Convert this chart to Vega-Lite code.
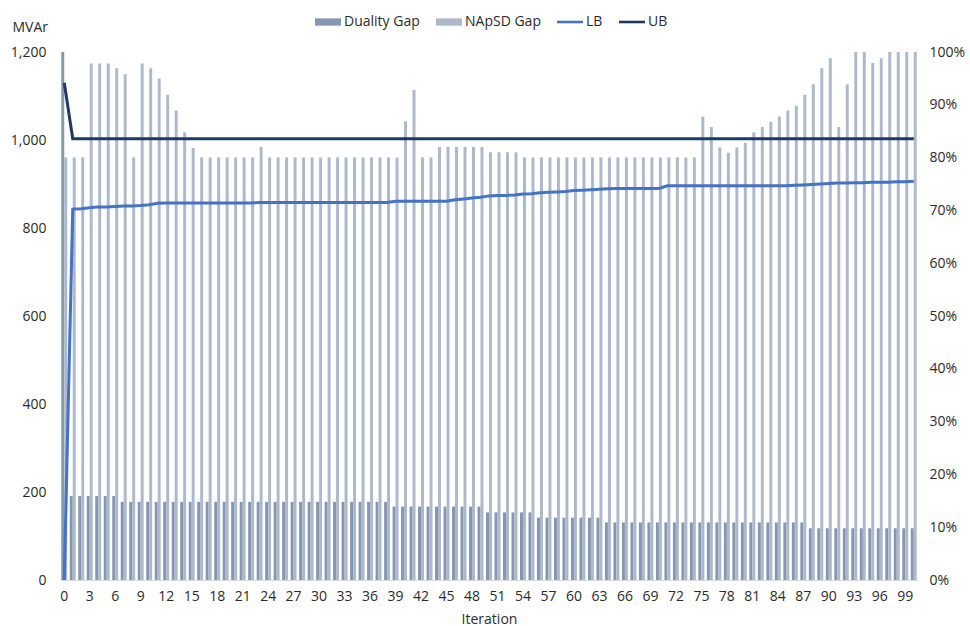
{
  "$schema": "https://vega.github.io/schema/vega-lite/v6.json",
  "width": 858,
  "height": 528,
  "autosize": {"type": "none"},
  "padding": {"left": 60, "top": 52, "right": 52, "bottom": 46},
  "background": "white",
  "config": {
    "view": {"stroke": null},
    "font": "Open Sans",
    "axis": {"labelFont": "Open Sans", "labelFontSize": 14, "labelColor": "#2b2b2b", "titleFont": "Open Sans", "titleFontSize": 14, "titleFontWeight": "normal", "titleColor": "#2b2b2b", "grid": false, "ticks": false},
    "legend": {"labelFont": "Open Sans", "labelFontSize": 14, "labelColor": "#2b2b2b"}
  },
  "data": {"values": [
    {"it":0,"Duality Gap":1.0,"NApSD Gap":0.80,"LB":0,"UB":1130},
    {"it":1,"Duality Gap":0.159,"NApSD Gap":0.80,"LB":843,"UB":1003},
    {"it":2,"Duality Gap":0.159,"NApSD Gap":0.80,"LB":844,"UB":1003},
    {"it":3,"Duality Gap":0.159,"NApSD Gap":0.978,"LB":846,"UB":1003},
    {"it":4,"Duality Gap":0.159,"NApSD Gap":0.978,"LB":848,"UB":1003},
    {"it":5,"Duality Gap":0.159,"NApSD Gap":0.978,"LB":848,"UB":1003},
    {"it":6,"Duality Gap":0.159,"NApSD Gap":0.969,"LB":849,"UB":1003},
    {"it":7,"Duality Gap":0.148,"NApSD Gap":0.958,"LB":850,"UB":1003},
    {"it":8,"Duality Gap":0.148,"NApSD Gap":0.80,"LB":850,"UB":1003},
    {"it":9,"Duality Gap":0.148,"NApSD Gap":0.978,"LB":851,"UB":1003},
    {"it":10,"Duality Gap":0.148,"NApSD Gap":0.969,"LB":853,"UB":1003},
    {"it":11,"Duality Gap":0.148,"NApSD Gap":0.95,"LB":856,"UB":1003},
    {"it":12,"Duality Gap":0.148,"NApSD Gap":0.919,"LB":857,"UB":1003},
    {"it":13,"Duality Gap":0.148,"NApSD Gap":0.889,"LB":857,"UB":1003},
    {"it":14,"Duality Gap":0.148,"NApSD Gap":0.848,"LB":857,"UB":1003},
    {"it":15,"Duality Gap":0.148,"NApSD Gap":0.818,"LB":857,"UB":1003},
    {"it":16,"Duality Gap":0.148,"NApSD Gap":0.80,"LB":857,"UB":1003},
    {"it":17,"Duality Gap":0.148,"NApSD Gap":0.80,"LB":857,"UB":1003},
    {"it":18,"Duality Gap":0.148,"NApSD Gap":0.80,"LB":857,"UB":1003},
    {"it":19,"Duality Gap":0.148,"NApSD Gap":0.80,"LB":857,"UB":1003},
    {"it":20,"Duality Gap":0.148,"NApSD Gap":0.80,"LB":857,"UB":1003},
    {"it":21,"Duality Gap":0.148,"NApSD Gap":0.80,"LB":857,"UB":1003},
    {"it":22,"Duality Gap":0.148,"NApSD Gap":0.80,"LB":857,"UB":1003},
    {"it":23,"Duality Gap":0.148,"NApSD Gap":0.82,"LB":858,"UB":1003},
    {"it":24,"Duality Gap":0.148,"NApSD Gap":0.80,"LB":858,"UB":1003},
    {"it":25,"Duality Gap":0.148,"NApSD Gap":0.80,"LB":858,"UB":1003},
    {"it":26,"Duality Gap":0.148,"NApSD Gap":0.80,"LB":858,"UB":1003},
    {"it":27,"Duality Gap":0.148,"NApSD Gap":0.80,"LB":858,"UB":1003},
    {"it":28,"Duality Gap":0.148,"NApSD Gap":0.80,"LB":858,"UB":1003},
    {"it":29,"Duality Gap":0.148,"NApSD Gap":0.80,"LB":858,"UB":1003},
    {"it":30,"Duality Gap":0.148,"NApSD Gap":0.80,"LB":858,"UB":1003},
    {"it":31,"Duality Gap":0.148,"NApSD Gap":0.80,"LB":858,"UB":1003},
    {"it":32,"Duality Gap":0.148,"NApSD Gap":0.80,"LB":858,"UB":1003},
    {"it":33,"Duality Gap":0.148,"NApSD Gap":0.80,"LB":858,"UB":1003},
    {"it":34,"Duality Gap":0.148,"NApSD Gap":0.80,"LB":858,"UB":1003},
    {"it":35,"Duality Gap":0.148,"NApSD Gap":0.80,"LB":858,"UB":1003},
    {"it":36,"Duality Gap":0.148,"NApSD Gap":0.80,"LB":858,"UB":1003},
    {"it":37,"Duality Gap":0.148,"NApSD Gap":0.80,"LB":858,"UB":1003},
    {"it":38,"Duality Gap":0.148,"NApSD Gap":0.80,"LB":858,"UB":1003},
    {"it":39,"Duality Gap":0.139,"NApSD Gap":0.80,"LB":861,"UB":1003},
    {"it":40,"Duality Gap":0.139,"NApSD Gap":0.869,"LB":861,"UB":1003},
    {"it":41,"Duality Gap":0.139,"NApSD Gap":0.928,"LB":861,"UB":1003},
    {"it":42,"Duality Gap":0.139,"NApSD Gap":0.80,"LB":861,"UB":1003},
    {"it":43,"Duality Gap":0.139,"NApSD Gap":0.80,"LB":861,"UB":1003},
    {"it":44,"Duality Gap":0.139,"NApSD Gap":0.82,"LB":861,"UB":1003},
    {"it":45,"Duality Gap":0.139,"NApSD Gap":0.82,"LB":861,"UB":1003},
    {"it":46,"Duality Gap":0.139,"NApSD Gap":0.82,"LB":864,"UB":1003},
    {"it":47,"Duality Gap":0.139,"NApSD Gap":0.82,"LB":866,"UB":1003},
    {"it":48,"Duality Gap":0.139,"NApSD Gap":0.82,"LB":868,"UB":1003},
    {"it":49,"Duality Gap":0.139,"NApSD Gap":0.82,"LB":870,"UB":1003},
    {"it":50,"Duality Gap":0.128,"NApSD Gap":0.81,"LB":873,"UB":1003},
    {"it":51,"Duality Gap":0.128,"NApSD Gap":0.81,"LB":874,"UB":1003},
    {"it":52,"Duality Gap":0.128,"NApSD Gap":0.81,"LB":874,"UB":1003},
    {"it":53,"Duality Gap":0.128,"NApSD Gap":0.81,"LB":875,"UB":1003},
    {"it":54,"Duality Gap":0.128,"NApSD Gap":0.80,"LB":877,"UB":1003},
    {"it":55,"Duality Gap":0.128,"NApSD Gap":0.80,"LB":878,"UB":1003},
    {"it":56,"Duality Gap":0.118,"NApSD Gap":0.80,"LB":880,"UB":1003},
    {"it":57,"Duality Gap":0.118,"NApSD Gap":0.80,"LB":881,"UB":1003},
    {"it":58,"Duality Gap":0.118,"NApSD Gap":0.80,"LB":882,"UB":1003},
    {"it":59,"Duality Gap":0.118,"NApSD Gap":0.80,"LB":883,"UB":1003},
    {"it":60,"Duality Gap":0.118,"NApSD Gap":0.80,"LB":885,"UB":1003},
    {"it":61,"Duality Gap":0.118,"NApSD Gap":0.80,"LB":886,"UB":1003},
    {"it":62,"Duality Gap":0.118,"NApSD Gap":0.80,"LB":887,"UB":1003},
    {"it":63,"Duality Gap":0.118,"NApSD Gap":0.80,"LB":888,"UB":1003},
    {"it":64,"Duality Gap":0.109,"NApSD Gap":0.80,"LB":889,"UB":1003},
    {"it":65,"Duality Gap":0.109,"NApSD Gap":0.80,"LB":890,"UB":1003},
    {"it":66,"Duality Gap":0.109,"NApSD Gap":0.80,"LB":890,"UB":1003},
    {"it":67,"Duality Gap":0.109,"NApSD Gap":0.80,"LB":890,"UB":1003},
    {"it":68,"Duality Gap":0.109,"NApSD Gap":0.80,"LB":890,"UB":1003},
    {"it":69,"Duality Gap":0.109,"NApSD Gap":0.80,"LB":890,"UB":1003},
    {"it":70,"Duality Gap":0.109,"NApSD Gap":0.80,"LB":890,"UB":1003},
    {"it":71,"Duality Gap":0.109,"NApSD Gap":0.80,"LB":896,"UB":1003},
    {"it":72,"Duality Gap":0.109,"NApSD Gap":0.80,"LB":896,"UB":1003},
    {"it":73,"Duality Gap":0.109,"NApSD Gap":0.80,"LB":896,"UB":1003},
    {"it":74,"Duality Gap":0.109,"NApSD Gap":0.80,"LB":896,"UB":1003},
    {"it":75,"Duality Gap":0.109,"NApSD Gap":0.878,"LB":896,"UB":1003},
    {"it":76,"Duality Gap":0.109,"NApSD Gap":0.858,"LB":896,"UB":1003},
    {"it":77,"Duality Gap":0.109,"NApSD Gap":0.819,"LB":896,"UB":1003},
    {"it":78,"Duality Gap":0.109,"NApSD Gap":0.809,"LB":896,"UB":1003},
    {"it":79,"Duality Gap":0.109,"NApSD Gap":0.819,"LB":896,"UB":1003},
    {"it":80,"Duality Gap":0.109,"NApSD Gap":0.828,"LB":896,"UB":1003},
    {"it":81,"Duality Gap":0.109,"NApSD Gap":0.848,"LB":896,"UB":1003},
    {"it":82,"Duality Gap":0.109,"NApSD Gap":0.858,"LB":896,"UB":1003},
    {"it":83,"Duality Gap":0.109,"NApSD Gap":0.868,"LB":896,"UB":1003},
    {"it":84,"Duality Gap":0.109,"NApSD Gap":0.878,"LB":896,"UB":1003},
    {"it":85,"Duality Gap":0.109,"NApSD Gap":0.889,"LB":896,"UB":1003},
    {"it":86,"Duality Gap":0.109,"NApSD Gap":0.898,"LB":897,"UB":1003},
    {"it":87,"Duality Gap":0.109,"NApSD Gap":0.919,"LB":898,"UB":1003},
    {"it":88,"Duality Gap":0.098,"NApSD Gap":0.939,"LB":899,"UB":1003},
    {"it":89,"Duality Gap":0.098,"NApSD Gap":0.969,"LB":900,"UB":1003},
    {"it":90,"Duality Gap":0.098,"NApSD Gap":0.988,"LB":901,"UB":1003},
    {"it":91,"Duality Gap":0.098,"NApSD Gap":0.858,"LB":902,"UB":1003},
    {"it":92,"Duality Gap":0.098,"NApSD Gap":0.939,"LB":902,"UB":1003},
    {"it":93,"Duality Gap":0.098,"NApSD Gap":1.0,"LB":903,"UB":1003},
    {"it":94,"Duality Gap":0.098,"NApSD Gap":1.0,"LB":903,"UB":1003},
    {"it":95,"Duality Gap":0.098,"NApSD Gap":0.979,"LB":904,"UB":1003},
    {"it":96,"Duality Gap":0.098,"NApSD Gap":0.988,"LB":904,"UB":1003},
    {"it":97,"Duality Gap":0.098,"NApSD Gap":1.0,"LB":904,"UB":1003},
    {"it":98,"Duality Gap":0.098,"NApSD Gap":1.0,"LB":905,"UB":1003},
    {"it":99,"Duality Gap":0.098,"NApSD Gap":1.0,"LB":905,"UB":1003},
    {"it":100,"Duality Gap":0.098,"NApSD Gap":1.0,"LB":906,"UB":1003}
  ]},
  "layer": [
    {
      "transform": [{"fold": ["Duality Gap", "NApSD Gap"], "as": ["series", "pct"]}],
      "mark": {"type": "bar"},
      "encoding": {
        "x": {"field": "it", "type": "ordinal", "scale": {"paddingInner": 0.3, "paddingOuter": 0.15},
          "axis": {"title": "Iteration", "labelAngle": 0, "values": [0,3,6,9,12,15,18,21,24,27,30,33,36,39,42,45,48,51,54,57,60,63,66,69,72,75,78,81,84,87,90,93,96,99], "domainColor": "#d9d9d9", "domainWidth": 1, "labelPadding": 9, "titlePadding": 9}},
        "xOffset": {"field": "series", "type": "nominal", "scale": {"domain": ["Duality Gap", "NApSD Gap"]}},
        "y": {"field": "pct", "type": "quantitative", "scale": {"domain": [0, 1], "nice": false},
          "axis": {"orient": "right", "title": null, "format": ".0%", "values": [0,0.1,0.2,0.3,0.4,0.5,0.6,0.7,0.8,0.9,1], "domain": false, "labelPadding": 11}},
        "color": {"field": "series", "type": "nominal",
          "scale": {"domain": ["Duality Gap", "NApSD Gap", "LB", "UB"], "range": ["#8497B0", "#ADB9CA", "#4472C4", "#203864"]},
          "legend": {"title": null, "orient": "none", "direction": "horizontal", "legendX": 255, "legendY": -43, "padding": 0,
            "symbolSize": 676, "labelOffset": 3, "columnPadding": 16,
            "encode": {"symbols": {"update": {
              "shape": {"signal": "(datum.value === 'LB' || datum.value === 'UB') ? 'M-1,-0.1H1V0.1H-1Z' : 'M-1,-0.28H1V0.28H-1Z'"},
              "fill": {"scale": "color", "field": "value"},
              "stroke": {"value": "transparent"},
              "strokeWidth": {"value": 0},
              "opacity": {"value": 1}
            }}}}
        }
      }
    },
    {
      "transform": [{"fold": ["LB", "UB"], "as": ["series", "val"]}],
      "mark": {"type": "line", "strokeWidth": 3},
      "encoding": {
        "x": {"field": "it", "type": "ordinal"},
        "y": {"field": "val", "type": "quantitative", "scale": {"domain": [0, 1200], "nice": false},
          "axis": {"orient": "left", "title": "MVAr", "format": ",d", "values": [0,200,400,600,800,1000,1200], "domain": false, "labelPadding": 14,
            "titleAngle": 0, "titleAlign": "left", "titleBaseline": "middle", "titleX": -48, "titleY": -25}},
        "color": {"field": "series", "type": "nominal"}
      }
    }
  ],
  "resolve": {"scale": {"y": "independent"}, "axis": {"y": "independent"}}
}
